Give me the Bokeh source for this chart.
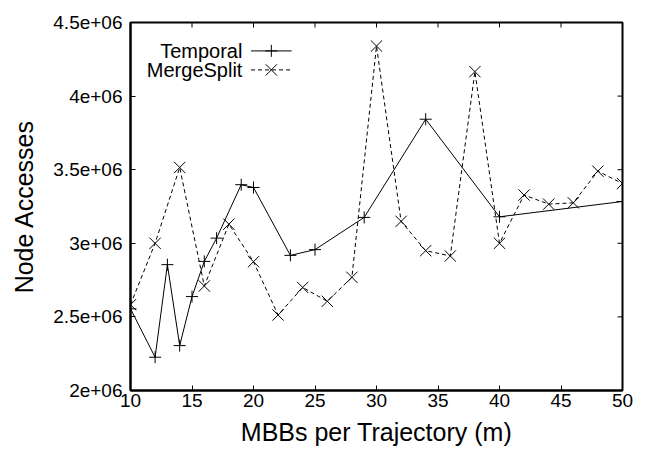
import math
from bokeh.plotting import figure
from bokeh.models import Range1d, FixedTicker
from bokeh.core.properties import value
from bokeh.embed import file_html
from bokeh.resources import INLINE

# ---- data ----
series_names = ["Temporal", "MergeSplit"]

temporal_x = [10, 12, 13, 14, 15, 16, 17, 19, 20, 23, 25, 29, 34, 40, 50]
temporal_y = [2.555e6, 2.226e6, 2.855e6, 2.305e6, 2.638e6, 2.877e6, 3.035e6,
              3.398e6, 3.379e6, 2.918e6, 2.957e6, 3.176e6, 3.843e6, 3.180e6, 3.284e6]

merge_x = [10, 12, 14, 16, 18, 20, 22, 24, 26, 28, 30, 32, 34, 36, 38, 40, 42, 44, 46, 48, 50]
merge_y = [2.583e6, 3.000e6, 3.515e6, 2.710e6, 3.130e6, 2.875e6, 2.513e6, 2.700e6,
           2.606e6, 2.769e6, 4.340e6, 3.149e6, 2.950e6, 2.914e6, 4.166e6, 3.000e6,
           3.328e6, 3.266e6, 3.275e6, 3.490e6, 3.406e6]

x_ticks = [10, 15, 20, 25, 30, 35, 40, 45, 50]
y_ticks = [2000000, 2500000, 3000000, 3500000, 4000000, 4500000]
y_tick_labels = ["2e+06", "2.5e+06", "3e+06", "3.5e+06", "4e+06", "4.5e+06"]

x_title = "MBBs per Trajectory (m)"
y_title = "Node Accesses"

FONT = "Liberation Sans"
X0, X1 = 10, 50
Y0, Y1 = 2e6, 4.5e6

p = figure(width=648, height=451, output_backend="svg", toolbar_location=None,
           x_range=Range1d(X0, X1), y_range=Range1d(Y0, Y1),
           min_border_left=130, min_border_right=26, min_border_top=22, min_border_bottom=61)
p.xgrid.visible = False
p.ygrid.visible = False
p.outline_line_color = "black"
p.outline_line_width = 2
p.background_fill_color = "white"
p.border_fill_color = "white"

for ax in (p.xaxis[0], p.yaxis[0]):
    ax.axis_line_color = "black"
    ax.axis_line_width = 2
    ax.major_tick_in = 5
    ax.major_tick_out = 0
    ax.major_tick_line_color = "black"
    ax.major_tick_line_width = 1
    ax.minor_tick_line_color = None
    ax.major_label_text_font = FONT
    ax.major_label_text_color = "black"
    ax.major_label_text_font_size = "19px"
    ax.axis_label_text_font = FONT
    ax.axis_label_text_font_style = "normal"
    ax.axis_label_text_color = "black"
    ax.axis_label_text_font_size = "25px"

xa = p.xaxis[0]
ya = p.yaxis[0]
xa.ticker = FixedTicker(ticks=x_ticks)
ya.ticker = FixedTicker(ticks=y_ticks)
ya.major_label_overrides = dict(zip(y_ticks, y_tick_labels))
xa.axis_label = x_title
ya.axis_label = y_title
xa.major_label_standoff = 3
xa.axis_label_standoff = 8
ya.major_label_standoff = 8
ya.axis_label_standoff = 12

# mirrored inward ticks on top and right edges (clipped to the frame)
p.scatter(x_ticks, [Y1] * len(x_ticks), marker="dash", angle=math.pi / 2, size=10,
          line_color="black", line_width=1)
p.scatter([X1] * len(y_ticks), y_ticks, marker="dash", size=10,
          line_color="black", line_width=1)

# ---- series ----
p.line(temporal_x, temporal_y, line_color="black", line_width=1)
p.scatter(temporal_x, temporal_y, marker="cross", size=12, line_color="black", line_width=1)
p.line(merge_x, merge_y, line_color="black", line_width=1, line_dash="4 3")
p.scatter(merge_x, merge_y, marker="x", size=16, line_color="black", line_width=1)

# ---- key (gnuplot style: text right-aligned, then sample) ----
key_text_x = 19.1
key_line = (19.8, 23.1)
key_mid = 21.45
key_y = [4.307e6, 4.178e6]
p.text(x=[key_text_x] * 2, y=key_y, text=series_names, text_align="right",
       text_baseline="middle", text_font=value(FONT), text_font_size="20px", text_color="black")
p.line(list(key_line), [key_y[0]] * 2, line_color="black", line_width=1)
p.scatter([key_mid], [key_y[0]], marker="cross", size=12, line_color="black", line_width=1)
p.line(list(key_line), [key_y[1]] * 2, line_color="black", line_width=1, line_dash="4 3")
p.scatter([key_mid], [key_y[1]], marker="x", size=16, line_color="black", line_width=1)

open("out.html", "w").write(file_html(p, INLINE))
